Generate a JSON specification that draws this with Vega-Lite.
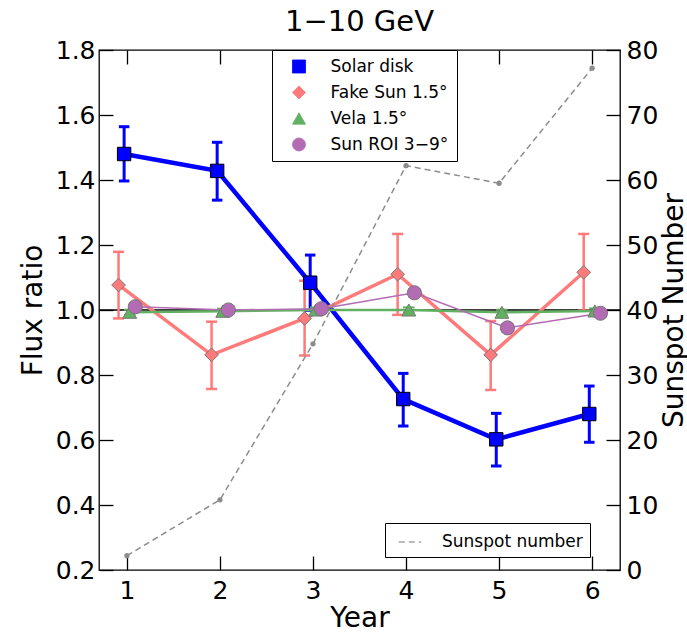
{
  "$schema": "https://vega.github.io/schema/vega-lite/v6.json",
  "width": 521,
  "height": 520,
  "autosize": {"type": "none"},
  "padding": {"left": 99, "top": 50, "right": 67, "bottom": 63},
  "background": "white",
  "title": {"text": "1\u221210 GeV", "fontSize": 29, "fontWeight": "normal", "color": "black", "anchor": "middle", "offset": 1, "font": "DejaVu Sans"},
  "config": {
    "font": "DejaVu Sans",
    "view": {"stroke": "black", "strokeWidth": 1.3},
    "axis": {
      "domain": false,
      "grid": false,
      "tickColor": "black",
      "tickWidth": 1.3,
      "tickSize": -14,
      "labelColor": "black",
      "labelFontSize": 25,
      "labelFont": "DejaVu Sans",
      "titleFont": "DejaVu Sans",
      "titleFontSize": 28,
      "titleFontWeight": "normal",
      "titleColor": "black"
    },
    "legend": {"labelFont": "DejaVu Sans", "labelColor": "black"}
  },
  "datasets": {
    "flux": [
      {"series": "Solar disk", "x": 0.97, "y": 1.48, "lo": 1.397, "hi": 1.564},
      {"series": "Solar disk", "x": 1.97, "y": 1.428, "lo": 1.338, "hi": 1.516},
      {"series": "Solar disk", "x": 2.97, "y": 1.084, "lo": 0.999, "hi": 1.169},
      {"series": "Solar disk", "x": 3.97, "y": 0.726, "lo": 0.643, "hi": 0.805},
      {"series": "Solar disk", "x": 4.97, "y": 0.602, "lo": 0.52, "hi": 0.682},
      {"series": "Solar disk", "x": 5.97, "y": 0.68, "lo": 0.593, "hi": 0.766},
      {"series": "Fake Sun 1.5\u00b0", "x": 0.91, "y": 1.077, "lo": 0.974, "hi": 1.179},
      {"series": "Fake Sun 1.5\u00b0", "x": 1.91, "y": 0.862, "lo": 0.757, "hi": 0.964},
      {"series": "Fake Sun 1.5\u00b0", "x": 2.91, "y": 0.974, "lo": 0.86, "hi": 1.09},
      {"series": "Fake Sun 1.5\u00b0", "x": 3.91, "y": 1.11, "lo": 0.985, "hi": 1.234},
      {"series": "Fake Sun 1.5\u00b0", "x": 4.91, "y": 0.862, "lo": 0.754, "hi": 0.966},
      {"series": "Fake Sun 1.5\u00b0", "x": 5.91, "y": 1.116, "lo": 0.998, "hi": 1.234},
      {"series": "Vela 1.5\u00b0", "x": 1.03, "y": 0.993, "lo": 0.985, "hi": 1.001},
      {"series": "Vela 1.5\u00b0", "x": 2.03, "y": 0.996, "lo": 0.988, "hi": 1.004},
      {"series": "Vela 1.5\u00b0", "x": 3.03, "y": 1.0, "lo": 0.992, "hi": 1.008},
      {"series": "Vela 1.5\u00b0", "x": 4.03, "y": 1.0, "lo": 0.992, "hi": 1.008},
      {"series": "Vela 1.5\u00b0", "x": 5.03, "y": 0.993, "lo": 0.985, "hi": 1.001},
      {"series": "Vela 1.5\u00b0", "x": 6.03, "y": 0.997, "lo": 0.989, "hi": 1.005},
      {"series": "Sun ROI 3\u22129\u00b0", "x": 1.09, "y": 1.01, "lo": 0.998, "hi": 1.022},
      {"series": "Sun ROI 3\u22129\u00b0", "x": 2.09, "y": 1.0, "lo": 0.988, "hi": 1.012},
      {"series": "Sun ROI 3\u22129\u00b0", "x": 3.09, "y": 1.004, "lo": 0.992, "hi": 1.016},
      {"series": "Sun ROI 3\u22129\u00b0", "x": 4.09, "y": 1.053, "lo": 1.041, "hi": 1.065},
      {"series": "Sun ROI 3\u22129\u00b0", "x": 5.09, "y": 0.945, "lo": 0.933, "hi": 0.957},
      {"series": "Sun ROI 3\u22129\u00b0", "x": 6.09, "y": 0.99, "lo": 0.978, "hi": 1.002}
    ],
    "sun": [
      {"series": "Sunspot number", "year": 1, "s": 2.2},
      {"series": "Sunspot number", "year": 2, "s": 10.8},
      {"series": "Sunspot number", "year": 3, "s": 34.8},
      {"series": "Sunspot number", "year": 4, "s": 62.2},
      {"series": "Sunspot number", "year": 5, "s": 59.5},
      {"series": "Sunspot number", "year": 6, "s": 77.2}
    ]
  },
  "layer": [
    {
      "data": {"name": "flux"},
      "resolve": {"scale": {"size": "independent", "strokeWidth": "independent"}},
      "layer": [
        {
          "data": {"values": [{"ref": 1}]},
          "mark": {"type": "rule", "color": "black", "strokeWidth": 1.6},
          "encoding": {
            "y": {"field": "ref", "type": "quantitative", "scale": {"domain": [0.2, 1.8], "nice": false, "zero": false},
                  "axis": {"orient": "left", "values": [0.2, 0.4, 0.6, 0.8, 1.0, 1.2, 1.4, 1.6, 1.8], "format": ".1f", "title": "Flux ratio", "labelPadding": 18, "titlePadding": 8}}
          }
        },
        {
          "mark": {"type": "rule"},
          "encoding": {
            "x": {"field": "x", "type": "quantitative", "scale": {"domain": [0.7, 6.3], "nice": false, "zero": false},
                  "axis": {"orient": "bottom", "values": [1, 2, 3, 4, 5, 6], "format": "d", "title": "Year", "labelPadding": 22, "titlePadding": 1}},
            "y": {"field": "lo", "type": "quantitative"},
            "y2": {"field": "hi"},
            "color": {"field": "series", "type": "nominal",
                      "scale": {"domain": ["Solar disk", "Fake Sun 1.5\u00b0", "Vela 1.5\u00b0", "Sun ROI 3\u22129\u00b0"], "range": ["#0000ff", "#ff7a7a", "#62b062", "#b36bb3"]}},
            "strokeWidth": {"field": "series", "type": "nominal", "legend": null,
                            "scale": {"domain": ["Solar disk", "Fake Sun 1.5\u00b0", "Vela 1.5\u00b0", "Sun ROI 3\u22129\u00b0"], "range": [3, 1.5, 1.5, 1.5]}}
          }
        },
        {
          "transform": [{"fold": ["lo", "hi"], "as": ["end", "yv"]}],
          "mark": {"type": "point", "shape": "M-1,0L1,0", "filled": false, "opacity": 1},
          "encoding": {
            "x": {"field": "x", "type": "quantitative"},
            "y": {"field": "yv", "type": "quantitative"},
            "color": {"field": "series", "type": "nominal"},
            "strokeWidth": {"field": "series", "type": "nominal", "legend": null,
                            "scale": {"domain": ["Solar disk", "Fake Sun 1.5\u00b0", "Vela 1.5\u00b0", "Sun ROI 3\u22129\u00b0"], "range": [3, 1.5, 1.5, 1.5]}},
            "size": {"field": "series", "type": "nominal", "legend": null,
                     "scale": {"domain": ["Solar disk", "Fake Sun 1.5\u00b0", "Vela 1.5\u00b0", "Sun ROI 3\u22129\u00b0"], "range": [110, 144, 90, 90]}}
          }
        },
        {
          "mark": {"type": "line"},
          "encoding": {
            "x": {"field": "x", "type": "quantitative"},
            "y": {"field": "y", "type": "quantitative"},
            "color": {"field": "series", "type": "nominal"},
            "strokeWidth": {"field": "series", "type": "nominal", "legend": null,
                            "scale": {"domain": ["Solar disk", "Fake Sun 1.5\u00b0", "Vela 1.5\u00b0", "Sun ROI 3\u22129\u00b0"], "range": [4.5, 1.5, 2, 1.5]}}
          }
        },
        {
          "mark": {"type": "point", "filled": true, "opacity": 1, "strokeWidth": 1},
          "encoding": {
            "x": {"field": "x", "type": "quantitative"},
            "y": {"field": "y", "type": "quantitative"},
            "color": {"field": "series", "type": "nominal",
                      "legend": {"orient": "none", "legendX": 173, "legendY": 0, "title": null, "fillColor": "white", "strokeColor": "black",
                                 "padding": 8, "rowPadding": 8, "labelFontSize": 17, "symbolSize": 170, "symbolStrokeColor": "#777", "symbolStrokeWidth": 0.8, "labelOffset": 23, "symbolOffset": 10.5}},
            "shape": {"field": "series", "type": "nominal",
                      "scale": {"domain": ["Solar disk", "Fake Sun 1.5\u00b0", "Vela 1.5\u00b0", "Sun ROI 3\u22129\u00b0"], "range": ["square", "diamond", "triangle-up", "circle"]}},
            "stroke": {"field": "series", "type": "nominal", "legend": null,
                       "scale": {"domain": ["Solar disk", "Fake Sun 1.5\u00b0", "Vela 1.5\u00b0", "Sun ROI 3\u22129\u00b0"], "range": ["#000000", "#777777", "#777777", "#777777"]}},
            "size": {"field": "series", "type": "nominal", "legend": null,
                     "scale": {"domain": ["Solar disk", "Fake Sun 1.5\u00b0", "Vela 1.5\u00b0", "Sun ROI 3\u22129\u00b0"], "range": [180, 200, 170, 170]}}
          }
        }
      ]
    },
    {
      "data": {"name": "sun"},
      "layer": [
        {
          "mark": {"type": "line", "color": "#8c8c8c", "strokeWidth": 1.5},
          "encoding": {
            "x": {"field": "year", "type": "quantitative",
                  "axis": {"orient": "top", "values": [1, 2, 3, 4, 5, 6], "labels": false, "title": null}},
            "y": {"field": "s", "type": "quantitative", "scale": {"domain": [0, 80], "nice": false},
                  "axis": {"orient": "right", "values": [0, 10, 20, 30, 40, 50, 60, 70, 80], "title": "Sunspot Number", "titleAngle": 270, "titleBaseline": "top", "labelPadding": 20, "titlePadding": 3}},
            "strokeDash": {"field": "series", "type": "nominal",
                           "scale": {"domain": ["Sunspot number"], "range": [[6, 4]]},
                           "legend": {"orient": "none", "legendX": 286, "legendY": 473, "title": null, "fillColor": "white", "strokeColor": "black",
                                      "padding": 7, "labelFontSize": 17, "symbolType": "stroke", "symbolSize": 500, "symbolStrokeColor": "#777", "symbolStrokeWidth": 1, "labelOffset": 20, "symbolOffset": 6}}
          }
        },
        {
          "mark": {"type": "point", "filled": true, "color": "#8c8c8c", "size": 28, "opacity": 1},
          "encoding": {
            "x": {"field": "year", "type": "quantitative",
                  "axis": {"orient": "top", "values": [1, 2, 3, 4, 5, 6], "labels": false, "title": null}},
            "y": {"field": "s", "type": "quantitative"}
          }
        }
      ]
    }
  ],
  "resolve": {"scale": {"y": "independent"}}
}
